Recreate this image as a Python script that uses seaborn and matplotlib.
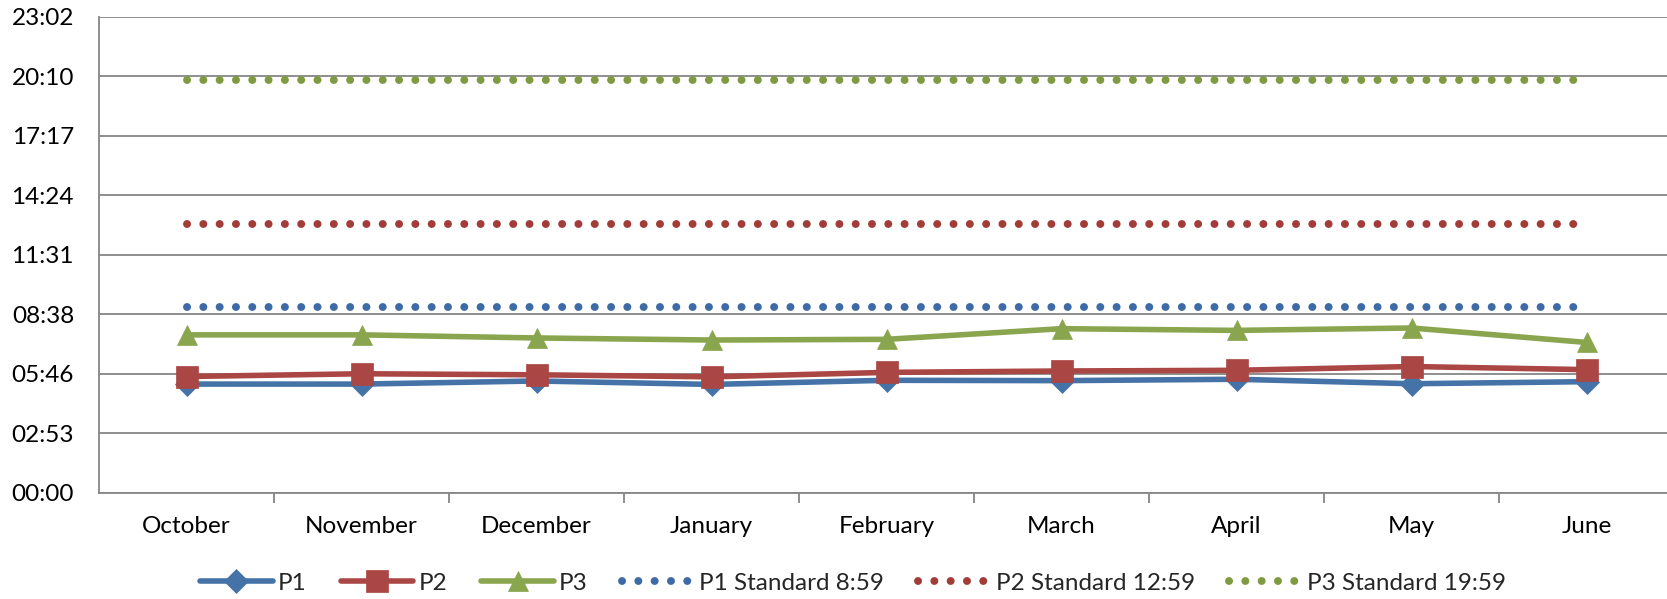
import matplotlib
matplotlib.use("Agg")
import matplotlib.pyplot as plt
import matplotlib.ticker as mticker
import seaborn as sns
import numpy as np

# ---- data ----
months = ["October", "November", "December", "January", "February",
          "March", "April", "May", "June"]
p1 = ["5:15", "5:15", "5:24", "5:14", "5:26", "5:25", "5:29", "5:16", "5:22"]
p2 = ["5:37", "5:45", "5:42", "5:36", "5:49", "5:53", "5:55", "6:06", "5:57"]
p3 = ["7:38", "7:38", "7:29", "7:23", "7:25", "7:56", "7:51", "7:58", "7:16"]
p1_std = "8:59"
p2_std = "12:59"
p3_std = "19:59"
y_ticks_days = [0, 0.12, 0.24, 0.36, 0.48, 0.60, 0.72, 0.84, 0.96]


def to_days(s):
    h, m = s.split(":")
    return (int(h) * 60 + int(m)) / 1440.0


sns.set_theme(style="white")
plt.rcParams["font.family"] = ["Lato", "DejaVu Sans"]

W, H = 1667, 599
fig = plt.figure(figsize=(W / 100, H / 100), dpi=100)
left, right, top, bottom = 99, 1674, 16.7, 492.5
ax = fig.add_axes([left / W, 1 - bottom / H, (right - left) / W, (bottom - top) / H])

x = np.arange(len(months))

c1, c2, c3 = "#4572A7", "#AA4643", "#89A54E"
cd1, cd2, cd3 = "#3E6AA6", "#A13C39", "#7F9B42"

dot_style = (0, (0.01, 2.05))
for vals, col, lab in [(p1_std, cd1, "P1 Standard 8:59"),
                       (p2_std, cd2, "P2 Standard 12:59"),
                       (p3_std, cd3, "P3 Standard 19:59")]:
    sns.lineplot(x=x, y=[to_days(vals)] * len(months), ax=ax, color=col,
                 linewidth=5.7, linestyle=dot_style, dash_capstyle="round",
                 label=lab, zorder=3)

for vals, col, mk, ms, lab in [(p1, c1, "D", 12, "P1"),
                               (p2, c2, "s", 15.5, "P2"),
                               (p3, c3, "^", 15, "P3")]:
    sns.lineplot(x=x, y=[to_days(v) for v in vals], ax=ax, color=col,
                 linewidth=4.0, marker=mk, markersize=ms, markeredgecolor=col,
                 markeredgewidth=0.5, label=lab, zorder=4)

ax.set_xlim(-0.5, len(months) - 0.5)
ax.set_ylim(0, 0.96)
ax.set_yticks(y_ticks_days)


def fmt(v, _):
    m = int(round(v * 1440))
    return f"{m // 60:02d}:{m % 60:02d}"


ax.yaxis.set_major_formatter(mticker.FuncFormatter(fmt))
ax.set_xticks(x)
ax.set_xticklabels(months)
ax.set_xticks(np.arange(0.5, len(months) - 0.5, 1.0), minor=True)
ax.tick_params(axis="x", which="major", length=0, pad=17, labelsize=17.5, colors="black")
ax.tick_params(axis="x", which="minor", length=7, width=1.3, color="#868686", bottom=True)
ax.tick_params(axis="y", length=0, pad=18, labelsize=17.5, colors="black")

ax.grid(axis="y", color="#868686", linewidth=1.3)
ax.grid(axis="x", visible=False)
ax.set_axisbelow(True)
for s in ["top", "right"]:
    ax.spines[s].set_visible(False)
for s in ["left", "bottom"]:
    ax.spines[s].set_color("#868686")
    ax.spines[s].set_linewidth(1.3)
ax.set_xlabel("")
ax.set_ylabel("")

handles, labels = ax.get_legend_handles_labels()
order = ["P1", "P2", "P3", "P1 Standard 8:59", "P2 Standard 12:59", "P3 Standard 19:59"]
hmap = dict(zip(labels, handles))
ax.legend([hmap[l] for l in order], order, ncol=6, loc="center",
          bbox_to_anchor=(853 / W, 1 - 583 / H), bbox_transform=fig.transFigure,
          frameon=False, fontsize=17.5, handlelength=3.0, handletextpad=0.2,
          columnspacing=1.4)

fig.savefig("out.png", dpi=100)
